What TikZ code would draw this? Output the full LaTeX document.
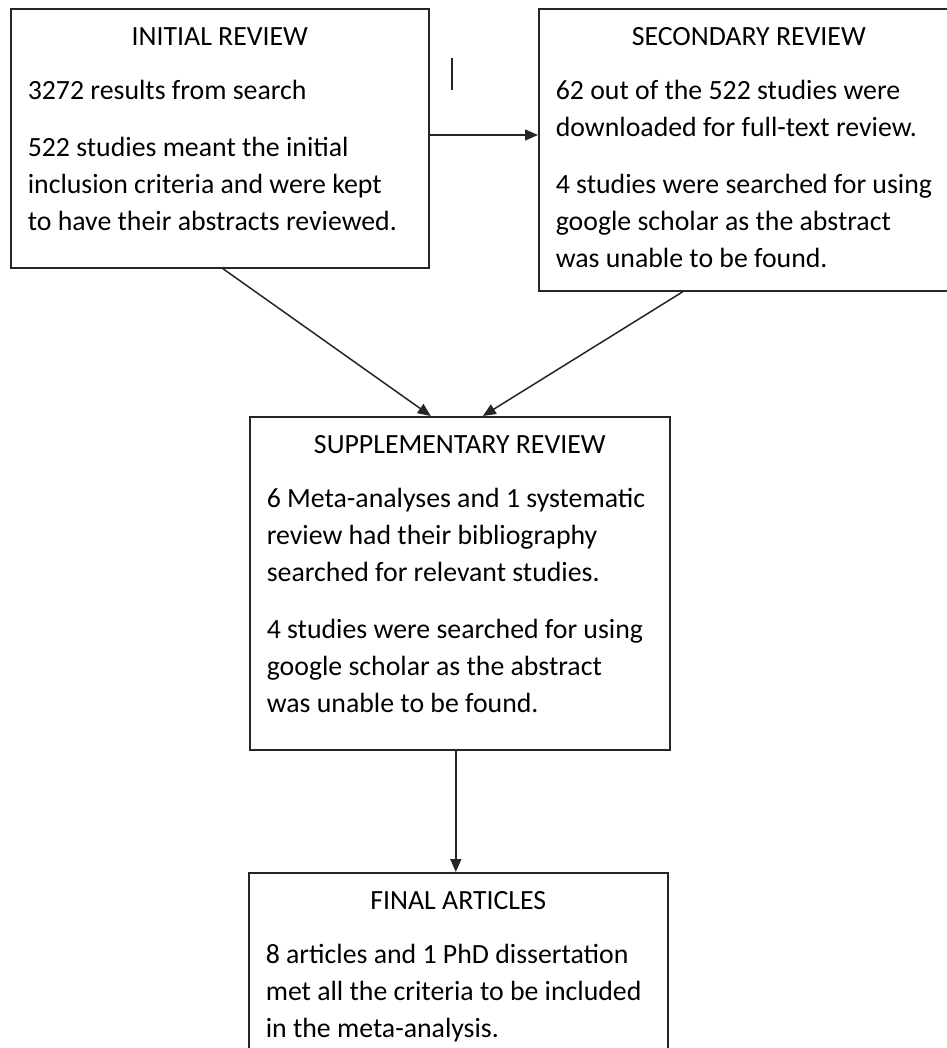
\documentclass[tikz,border=0pt]{standalone}
\usepackage{fontspec}
\setmainfont{Carlito}
\usetikzlibrary{arrows.meta}

\newcommand{\stagetext}[4]{%
  \parbox[t][#1][t]{#2}{{\centering\rule{0pt}{37pt}#3\par}\vspace{17pt}#4}}
\newcommand{\paragap}{\par\vspace{20pt}}

\begin{document}
\begin{tikzpicture}[
  x=1pt, y=-1pt,
  font=\fontsize{27.8pt}{37pt}\selectfont,
  stage/.style={draw=black!85, line width=1.6pt, anchor=north west, inner xsep=17pt, inner ysep=0pt, fill=white},
  arrow/.style={-{Triangle[length=13pt,width=11pt]}, line width=1.5pt, draw=black!85},
  stray/.style={line width=1.5pt, draw=black!85}
]
\useasboundingbox[fill=white] (0,0) rectangle (946,1048);

\node[stage] (init) at (10,8)
  {\stagetext{259pt}{384pt}{INITIAL REVIEW}{3272 results from search\paragap
   522 studies meant the initial\\ inclusion criteria and were kept\\ to have their abstracts reviewed.}};

\node[stage] (sec) at (538,8)
  {\stagetext{282pt}{386pt}{SECONDARY REVIEW}{62 out of the 522 studies were\\ downloaded for full-text review.\paragap
   4 studies were searched for using\\ google scholar as the abstract\\ was unable to be found.}};

\node[stage] (supp) at (249,416)
  {\stagetext{333pt}{386pt}{SUPPLEMENTARY REVIEW}{6 Meta-analyses and 1 systematic\\ review had their bibliography\\ searched for relevant studies.\paragap
   4 studies were searched for using\\ google scholar as the abstract\\ was unable to be found.}};

\node[stage] (final) at (248,872)
  {\stagetext{200pt}{385pt}{FINAL ARTICLES}{8 articles and 1 PhD dissertation\\ met all the criteria to be included\\ in the meta-analysis.}};

\coordinate (cursor) at (452,58);
\draw[stray] (cursor) -- ++(0,32);

\draw[arrow] (init.east |- 0,135) -- (sec.west |- 0,135);
\draw[arrow] ([xshift=3pt]init.south) -- ([xshift=-29pt]supp.north);
\draw[arrow] ([xshift=145pt]sec.south west) -- ([xshift=23pt]supp.north);
\draw[arrow] ([xshift=-4pt]supp.south) -- ([xshift=-4pt]supp.south |- final.north);

\end{tikzpicture}
\end{document}
